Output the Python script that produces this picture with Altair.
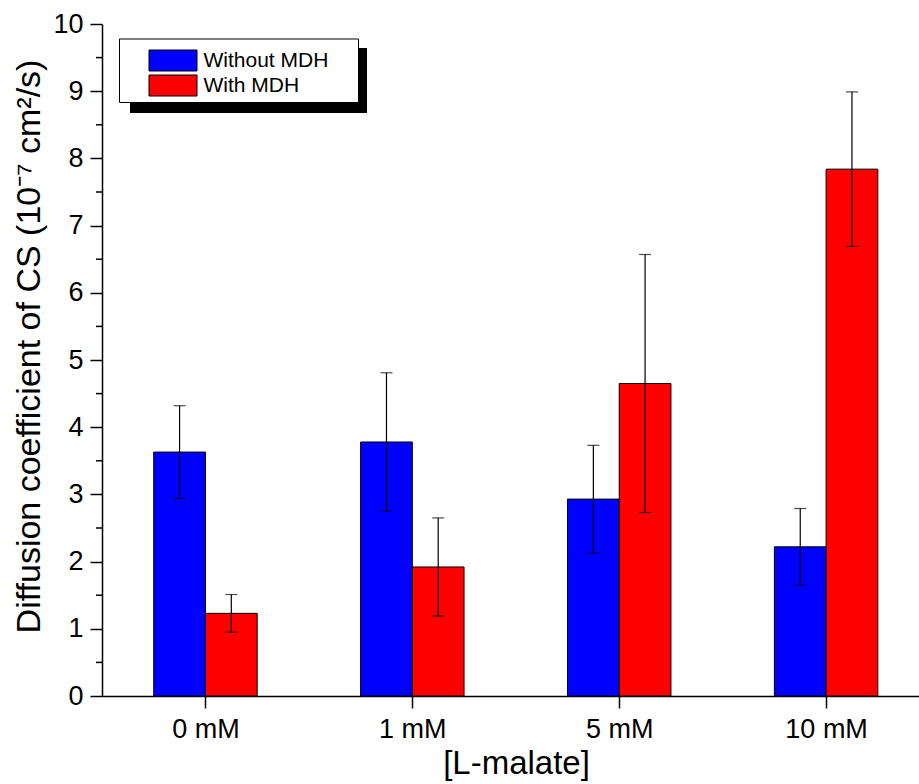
import altair as alt
import pandas as pd

# ---- data ----
categories = ["0 mM", "1 mM", "5 mM", "10 mM"]
groups = ["Without MDH", "With MDH"]
colors = ["#0000ff", "#ff0000"]
without_mdh = [3.63, 3.78, 2.93, 2.22]
without_err = [0.69, 1.03, 0.80, 0.57]
with_mdh = [1.23, 1.92, 4.65, 7.84]
with_err = [0.28, 0.73, 1.92, 1.15]
y_ticks = [0, 1, 2, 3, 4, 5, 6, 7, 8, 9, 10]
y_minor = [0.5, 1.5, 2.5, 3.5, 4.5, 5.5, 6.5, 7.5, 8.5, 9.5]

FONT = "Liberation Sans"

rows = []
for i, c in enumerate(categories):
    for gi, (g, vals, errs) in enumerate(zip(groups, [without_mdh, with_mdh], [without_err, with_err])):
        rows.append(dict(idx=i, gi=gi, cat=c, group=g, value=vals[i], err=errs[i]))
df = pd.DataFrame(rows)

label_expr = "[" + ",".join("'%s'" % c for c in categories) + "][datum.value]"

base = alt.Chart(df).transform_calculate(
    x0="datum.idx - 0.25 + 0.25 * datum.gi",
    x1="datum.idx + 0.25 * datum.gi",
    xc="datum.idx - 0.125 + 0.25 * datum.gi",
    lo="datum.value - datum.err",
    hi="datum.value + datum.err",
)

xscale = alt.Scale(domain=[-0.5, 3.449], nice=False, zero=False)
yscale = alt.Scale(domain=[0, 10], nice=False, zero=True)

x_axis = alt.Axis(
    values=[0, 1, 2, 3], labelExpr=label_expr, grid=False,
    tickSize=12, tickWidth=1.5, tickColor="black",
    domainColor="black", domainWidth=1.5,
    labelFont=FONT, labelFontSize=27, labelColor="black", labelPadding=8,
    title="[L-malate]", titleFont=FONT, titleFontSize=33, titleFontWeight="normal",
    titleColor="black", titleBaseline="alphabetic", titleY=77, titleX=414,
)
y_axis = alt.Axis(
    values=y_ticks, format="d", grid=False,
    tickSize=12, tickWidth=1.5, tickColor="black",
    domainColor="black", domainWidth=1.5,
    labelFont=FONT, labelFontSize=27, labelColor="black", labelPadding=7,
    title="Diffusion coefficient of CS (10⁻⁷ cm²/s)", titleFont=FONT, titleFontSize=34,
    titleFontWeight="normal", titleColor="black", titleBaseline="alphabetic",
    titleX=-63, titleY=322,
)

box_df = pd.DataFrame({"d": [0]})
shadow = alt.Chart(box_df).mark_rect(color="black").encode(
    x=alt.value(28), x2=alt.value(265), y=alt.value(24), y2=alt.value(89)
)
box = alt.Chart(box_df).mark_rect(fill="white", stroke="black", strokeWidth=1).encode(
    x=alt.value(17.5), x2=alt.value(256.5), y=alt.value(15), y2=alt.value(78.5)
)

bars = base.mark_bar(stroke="black", strokeWidth=1).encode(
    x=alt.X("x0:Q", scale=xscale, axis=x_axis),
    x2="x1:Q",
    y=alt.Y("value:Q", scale=yscale, axis=y_axis),
    y2=alt.datum(0),
    fill=alt.Fill(
        "group:N",
        scale=alt.Scale(domain=groups, range=colors),
        sort=groups,
        legend=alt.Legend(
            title=None, orient="none", legendX=47, legendY=24, padding=0,
            symbolType="M-2,-0.875H2V0.875H-2Z", symbolSize=576,
            symbolOffset=11.5,
            symbolStrokeColor="black", symbolStrokeWidth=1, symbolOpacity=1,
            labelFont=FONT, labelFontSize=21, labelColor="black",
            labelOffset=18, rowPadding=0,
        ),
    ),
)

err_rule = base.mark_rule(color="black", strokeWidth=1.2).encode(
    x="xc:Q", y="lo:Q", y2="hi:Q"
)
cap_hi = base.mark_tick(color="black", orient="horizontal", size=12, thickness=1.2).encode(
    x="xc:Q", y="hi:Q"
)
cap_lo = base.mark_tick(color="black", orient="horizontal", size=12, thickness=1.2).encode(
    x="xc:Q", y="lo:Q"
)

minor = alt.Chart(pd.DataFrame({"value": y_minor})).mark_rule(color="black", strokeWidth=1.5).encode(
    x=alt.value(-6), x2=alt.value(0), y=alt.Y("value:Q", scale=yscale)
)

chart = alt.layer(shadow, box, bars, err_rule, cap_hi, cap_lo, minor).properties(
    width=817, height=672,
    autosize=alt.AutoSizeParams(type="none"),
    padding={"left": 102, "top": 24, "right": 0, "bottom": 88},
    background="white",
).configure_view(stroke="transparent")

chart.save("out.html", embed_options={"renderer": "svg", "actions": False})
